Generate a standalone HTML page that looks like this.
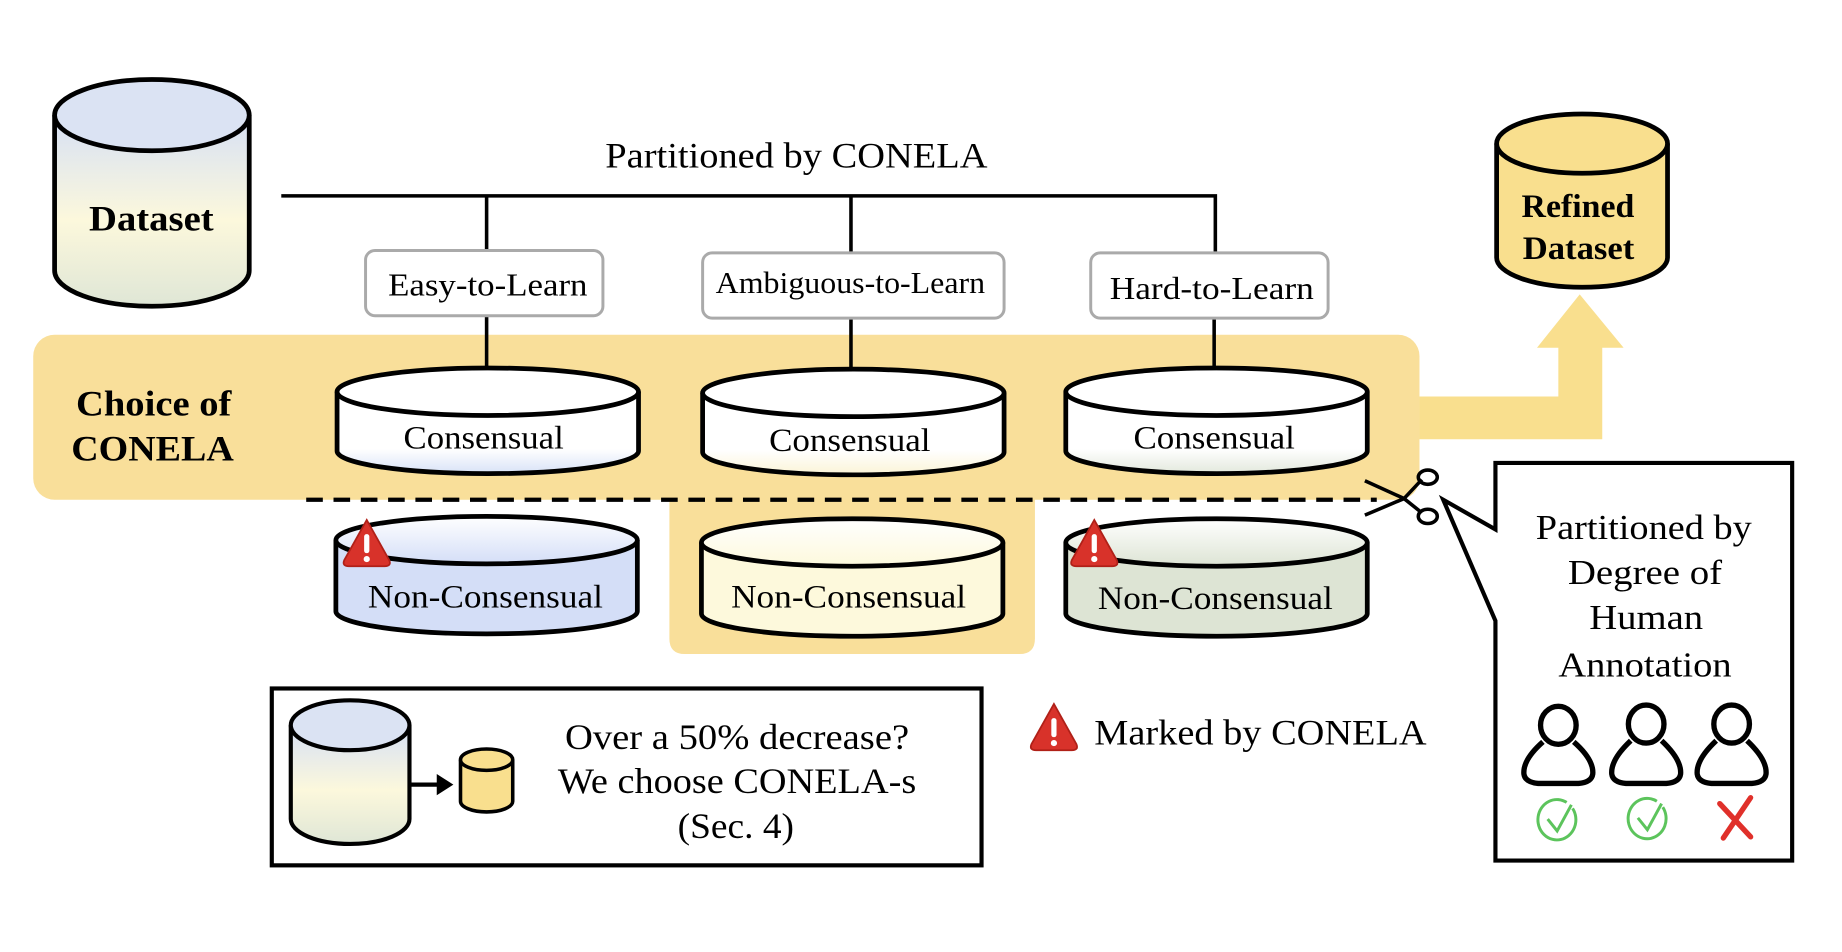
<!DOCTYPE html>
<html><head><meta charset="utf-8"><style>
html,body{margin:0;padding:0;background:#fff;}
svg{display:block;}
text{font-family:"Liberation Serif",serif;fill:#000;}
</style></head><body>
<svg width="1842" height="952" viewBox="0 0 1552 802" preserveAspectRatio="none" xmlns="http://www.w3.org/2000/svg">
<defs>
<linearGradient id="gd" x1="0" y1="0" x2="0" y2="1">
<stop offset="0" stop-color="#d6e0f5"/><stop offset="0.55" stop-color="#fcf8dc"/><stop offset="1" stop-color="#dfe6d6"/>
</linearGradient>
<linearGradient id="gc1" x1="0" y1="0" x2="0" y2="1"><stop offset="0.7" stop-color="#fff"/><stop offset="1" stop-color="#d8e2f7"/></linearGradient>
<linearGradient id="gc2" x1="0" y1="0" x2="0" y2="1"><stop offset="0.7" stop-color="#fff"/><stop offset="1" stop-color="#fbf4d6"/></linearGradient>
<linearGradient id="gc3" x1="0" y1="0" x2="0" y2="1"><stop offset="0.7" stop-color="#fff"/><stop offset="1" stop-color="#e2e8dc"/></linearGradient>
<linearGradient id="gt1" x1="0" y1="0" x2="0" y2="1"><stop offset="0" stop-color="#fff"/><stop offset="1" stop-color="#d4def7"/></linearGradient>
<linearGradient id="gt2" x1="0" y1="0" x2="0" y2="1"><stop offset="0" stop-color="#fff"/><stop offset="1" stop-color="#fdf9dc"/></linearGradient>
<linearGradient id="gt3" x1="0" y1="0" x2="0" y2="1"><stop offset="0" stop-color="#fff"/><stop offset="1" stop-color="#dde4d4"/></linearGradient>
<g id="warn">
<path d="M0,-24 L19,10 Q21,15 15,15 L-15,15 Q-21,15 -19,10 Z" fill="#d8322a" stroke="#b02018" stroke-width="1.5"/>
<rect x="-2.2" y="-12" width="4.4" height="16" rx="2" fill="#fff"/>
<circle cx="0" cy="9" r="2.6" fill="#fff"/>
</g>
</defs>

<rect x="28" y="282" width="1168" height="139" rx="18" fill="#f9df9a"/>
<path d="M564,420 L872,420 L872,538 Q872,551 859,551 L577,551 Q564,551 564,538 Z" fill="#f9df9a"/>

<path d="M1196,334 L1313,334 L1313,293 L1295,293 L1331,248 L1368,293 L1350,293 L1350,370 L1196,370 Z" fill="#f9df8e"/>

<path d="M46,97 L46,228 A82,30 0 0 0 210,228 L210,97" fill="url(#gd)" stroke="#000" stroke-width="4"/>
<ellipse cx="128" cy="97" rx="82" ry="30" fill="#dbe3f3" stroke="#000" stroke-width="4"/>
<text x="75" y="194" font-size="30" font-weight="bold" textLength="105" lengthAdjust="spacingAndGlyphs">Dataset</text>

<text x="510" y="141" font-size="30" textLength="322" lengthAdjust="spacingAndGlyphs">Partitioned by CONELA</text>
<path d="M237,165 L1024,165 L1024,213" fill="none" stroke="#000" stroke-width="3"/>
<line x1="410" y1="165" x2="410" y2="318" stroke="#000" stroke-width="3"/>
<line x1="717" y1="165" x2="717" y2="318" stroke="#000" stroke-width="3"/>
<line x1="1023" y1="213" x2="1023" y2="318" stroke="#000" stroke-width="3"/>

<rect x="308" y="211" width="200" height="55" rx="8" fill="#fff" stroke="#aaa" stroke-width="2.5"/>
<text x="327" y="249" font-size="27" textLength="168" lengthAdjust="spacingAndGlyphs">Easy-to-Learn</text>
<rect x="592" y="213" width="254" height="55" rx="8" fill="#fff" stroke="#aaa" stroke-width="2.5"/>
<text x="603" y="247" font-size="26" textLength="227" lengthAdjust="spacingAndGlyphs">Ambiguous-to-Learn</text>
<rect x="919" y="213" width="200" height="55" rx="8" fill="#fff" stroke="#aaa" stroke-width="2.5"/>
<text x="935" y="252" font-size="27" textLength="172" lengthAdjust="spacingAndGlyphs">Hard-to-Learn</text>

<text x="64" y="350" font-size="30" font-weight="bold" textLength="131" lengthAdjust="spacingAndGlyphs">Choice of</text>
<text x="60" y="388" font-size="30" font-weight="bold" textLength="137" lengthAdjust="spacingAndGlyphs">CONELA</text>

<path d="M284,330 L284,380 A127,19 0 0 0 538,380 L538,330" fill="url(#gc1)" stroke="#000" stroke-width="4"/>
<ellipse cx="411" cy="330" rx="127" ry="20" fill="#fff" stroke="#000" stroke-width="4"/>
<text x="340" y="378" font-size="28" textLength="135" lengthAdjust="spacingAndGlyphs">Consensual</text>
<path d="M592,331 L592,381 A127,19 0 0 0 846,381 L846,331" fill="url(#gc2)" stroke="#000" stroke-width="4"/>
<ellipse cx="719" cy="331" rx="127" ry="20" fill="#fff" stroke="#000" stroke-width="4"/>
<text x="648" y="380" font-size="28" textLength="136" lengthAdjust="spacingAndGlyphs">Consensual</text>
<path d="M898,330 L898,380 A127,19 0 0 0 1152,380 L1152,330" fill="url(#gc3)" stroke="#000" stroke-width="4"/>
<ellipse cx="1025" cy="330" rx="127" ry="20" fill="#fff" stroke="#000" stroke-width="4"/>
<text x="955" y="378" font-size="28" textLength="136" lengthAdjust="spacingAndGlyphs">Consensual</text>

<line x1="258" y1="421" x2="1160" y2="421" stroke="#000" stroke-width="3.5" stroke-dasharray="14,9"/>

<g stroke="#000" fill="none" stroke-width="3">
<line x1="1150" y1="405" x2="1183" y2="420"/>
<line x1="1150" y1="434" x2="1183" y2="420"/>
<line x1="1183" y1="420" x2="1198" y2="404"/>
<line x1="1183" y1="420" x2="1198" y2="432"/>
<ellipse cx="1203" cy="402" rx="8" ry="6"/>
<ellipse cx="1203" cy="435" rx="8" ry="6"/>
</g>

<path d="M283,455 L283,515 A127,19 0 0 0 537,515 L537,455" fill="#d4def7" stroke="#000" stroke-width="4"/>
<ellipse cx="410" cy="455" rx="127" ry="20" fill="url(#gt1)" stroke="#000" stroke-width="4"/>
<text x="310" y="512" font-size="28" textLength="198" lengthAdjust="spacingAndGlyphs">Non-Consensual</text>
<path d="M591,457 L591,517 A127,19 0 0 0 845,517 L845,457" fill="#fdf9dc" stroke="#000" stroke-width="4"/>
<ellipse cx="718" cy="457" rx="127" ry="20" fill="url(#gt2)" stroke="#000" stroke-width="4"/>
<text x="616" y="512" font-size="28" textLength="198" lengthAdjust="spacingAndGlyphs">Non-Consensual</text>
<path d="M898,457 L898,517 A127,19 0 0 0 1152,517 L1152,457" fill="#dde4d4" stroke="#000" stroke-width="4"/>
<ellipse cx="1025" cy="457" rx="127" ry="20" fill="url(#gt3)" stroke="#000" stroke-width="4"/>
<text x="925" y="513" font-size="28" textLength="198" lengthAdjust="spacingAndGlyphs">Non-Consensual</text>

<use href="#warn" x="309" y="462"/>
<use href="#warn" x="922" y="462"/>
<use href="#warn" x="888" y="617"/>
<text x="922" y="627" font-size="30" textLength="280" lengthAdjust="spacingAndGlyphs">Marked by CONELA</text>

<path d="M1261,121 L1261,217 A72,25 0 0 0 1405,217 L1405,121" fill="#f9df8e" stroke="#000" stroke-width="4"/>
<ellipse cx="1333" cy="121" rx="72" ry="25" fill="#f9df8e" stroke="#000" stroke-width="4"/>
<text x="1282" y="183" font-size="28" font-weight="bold" textLength="95" lengthAdjust="spacingAndGlyphs">Refined</text>
<text x="1283" y="218" font-size="28" font-weight="bold" textLength="94" lengthAdjust="spacingAndGlyphs">Dataset</text>

<path d="M1260,390 L1510,390 L1510,725 L1260,725 L1260,523 L1216,421 L1260,446 Z" fill="#fff" stroke="#000" stroke-width="3.5" stroke-linejoin="miter"/>
<g font-size="29">
<text x="1294" y="454" textLength="182" lengthAdjust="spacingAndGlyphs">Partitioned by</text>
<text x="1321" y="492" textLength="130" lengthAdjust="spacingAndGlyphs">Degree of</text>
<text x="1339" y="530" textLength="96" lengthAdjust="spacingAndGlyphs">Human</text>
<text x="1313" y="570" textLength="146" lengthAdjust="spacingAndGlyphs">Annotation</text>
</g>
<g fill="none" stroke="#000" stroke-width="4.5">
<ellipse cx="1313" cy="611" rx="15" ry="16"/>
<path d="M1300,625 Q1283,640 1284,652 Q1285,659 1296,660 L1330,660 Q1341,659 1342,652 Q1343,640 1326,625"/>
<ellipse cx="1387" cy="610" rx="15" ry="16"/>
<path d="M1374,624 Q1357,640 1358,652 Q1359,659 1370,660 L1404,660 Q1415,659 1416,652 Q1417,640 1400,624"/>
<ellipse cx="1459" cy="610" rx="15" ry="16"/>
<path d="M1446,624 Q1429,640 1430,652 Q1431,659 1442,660 L1476,660 Q1487,659 1488,652 Q1489,640 1472,624"/>
</g>
<g fill="none" stroke="#5cc45c" stroke-width="2.5">
<path d="M1320,676 A16,17 0 1 0 1325,681"/><path d="M1304,690 L1312,700 L1324,678"/>
<path d="M1396,675 A16,17 0 1 0 1401,680"/><path d="M1380,689 L1388,699 L1400,677"/>
</g>
<g stroke="#e0302a" stroke-width="4.5" stroke-linecap="round">
<line x1="1449" y1="677" x2="1475" y2="705"/><line x1="1475" y1="672" x2="1452" y2="706"/>
</g>

<rect x="229" y="580" width="598" height="149" fill="#fff" stroke="#000" stroke-width="3.5"/>
<path d="M245,611 L245,690 A50,21 0 0 0 345,690 L345,611" fill="url(#gd)" stroke="#000" stroke-width="3.5"/>
<ellipse cx="295" cy="611" rx="50" ry="21" fill="#dbe3f3" stroke="#000" stroke-width="3.5"/>
<line x1="345" y1="661" x2="370" y2="661" stroke="#000" stroke-width="3.5"/>
<path d="M368,652 L382,661 L368,670 Z" fill="#000"/>
<path d="M388,640 L388,675 A22,9 0 0 0 432,675 L432,640" fill="#f9df8e" stroke="#000" stroke-width="3"/>
<ellipse cx="410" cy="640" rx="22" ry="9" fill="#f9df8e" stroke="#000" stroke-width="3"/>
<g font-size="30">
<text x="476" y="631" textLength="290" lengthAdjust="spacingAndGlyphs">Over a 50% decrease?</text>
<text x="470" y="668" textLength="302" lengthAdjust="spacingAndGlyphs">We choose CONELA-s</text>
<text x="571" y="706" textLength="98" lengthAdjust="spacingAndGlyphs">(Sec. 4)</text>
</g>
</svg>
</body></html>
